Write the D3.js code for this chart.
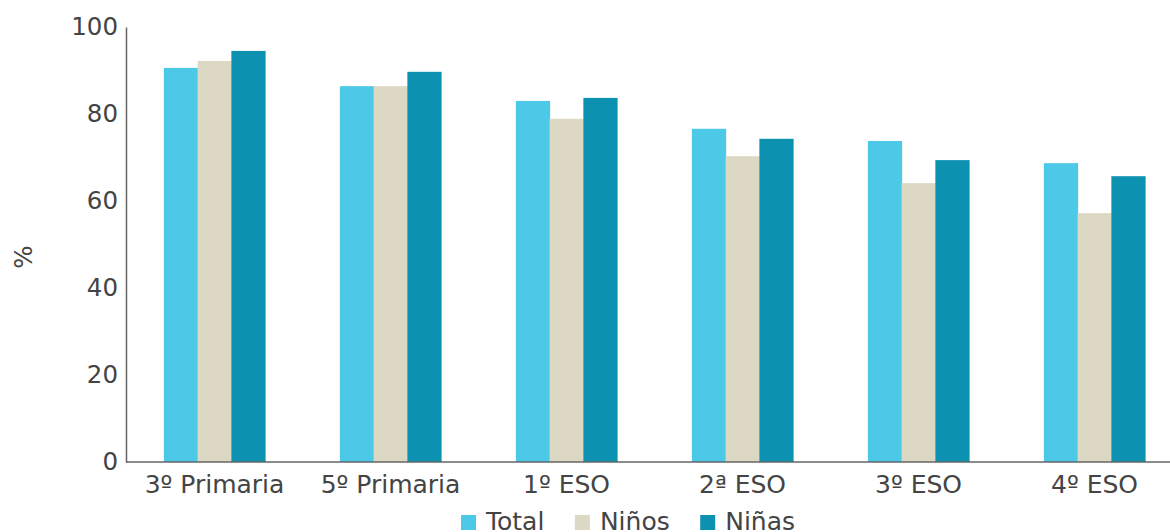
<!DOCTYPE html>
<html><head><meta charset="utf-8">
<script src="https://cdn.jsdelivr.net/npm/d3@7/dist/d3.min.js"></script>
<style>body{margin:0;background:#fff}svg{display:block}text{font-family:"DejaVu Sans",sans-serif;fill:#444}</style>
</head><body>
<svg id="c" width="1170" height="532"></svg>
<script>
const categories = ["3º Primaria","5º Primaria","1º ESO","2ª ESO","3º ESO","4º ESO"];
const seriesNames = ["Total","Niños","Niñas"];
const total = [90.6, 86.4, 83.0, 76.6, 73.8, 68.7];
const ninos = [92.2, 86.4, 78.9, 70.3, 64.1, 57.2];
const ninas = [94.5, 89.7, 83.7, 74.3, 69.4, 65.7];
const yTicks = [0,20,40,60,80,100];
const colors = ["#4cc9e6","#ddd8c3","#0d91b1"];
const seriesData = [total, ninos, ninas];

const svg = d3.select("#c");
const x0 = d3.scaleBand().domain(categories).range([126.5, 1182.5]).paddingInner(0.425).paddingOuter(0.2125);
const x1 = d3.scaleBand().domain(seriesNames).range([0, x0.bandwidth()]);
const y = d3.scaleLinear().domain([0,100]).range([462, 27]);
const color = d3.scaleOrdinal().domain(seriesNames).range(colors);

const g = svg.append("g");
categories.forEach((c,i)=>{
  seriesNames.forEach((s,j)=>{
    const v = seriesData[j][i];
    g.append("rect").attr("x", x0(c)+x1(s)).attr("width", x1.bandwidth()+0.5)
     .attr("y", y(v)).attr("height", y(0)-y(v)).attr("fill", color(s));
  });
});

// y axis
const ya = svg.append("g").attr("transform","translate(126,0)")
  .call(d3.axisLeft(y).tickValues(yTicks).tickSize(0).tickPadding(8));
ya.select(".domain").attr("stroke","#666").attr("stroke-width",1.5);
ya.selectAll("text").style("font-size","24.5px").attr("fill","#444").style("font-family","DejaVu Sans");

// x axis
const xa = svg.append("g").attr("transform","translate(0,462)")
  .call(d3.axisBottom(x0).tickSize(0).tickPadding(0));
xa.select(".domain").remove();
xa.append("line").attr("x1",126).attr("x2",1170).attr("y1",0).attr("y2",0).attr("stroke","#666").attr("stroke-width",1.5);
xa.selectAll("text").attr("dy",null).attr("y",31).style("font-size","25px").attr("fill","#444").style("font-family","DejaVu Sans");

// y label
svg.append("text").attr("transform","translate(32,257) rotate(-90)").attr("text-anchor","middle")
  .style("font-size","24.5px").text("%");

// legend
const lg = svg.append("g");
let lx = 461;
seriesNames.forEach((s,j)=>{
  lg.append("rect").attr("x", lx).attr("y", 515).attr("width", 15).attr("height", 15).attr("fill", color(s));
  const t = lg.append("text").attr("x", lx+25).attr("y", 530).style("font-size","25px").text(s);
  lx += 25 + t.node().getComputedTextLength() + 30.5;
});
</script>
</body></html>
